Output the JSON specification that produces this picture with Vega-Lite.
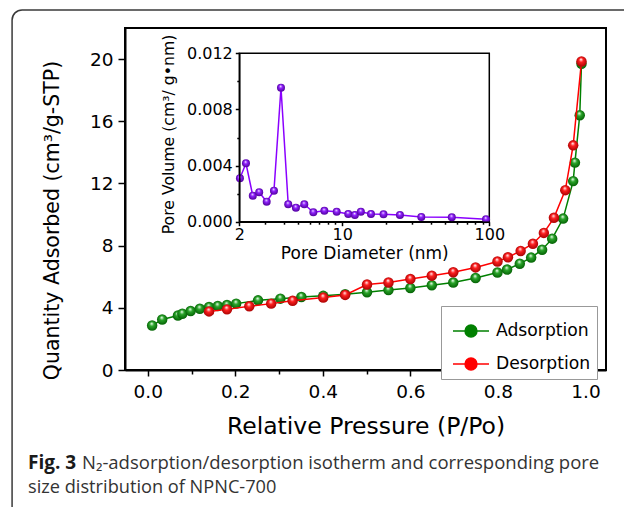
{
  "$schema": "https://vega.github.io/schema/vega-lite/v6.json",
  "width": 481,
  "height": 342,
  "autosize": {"type": "none"},
  "padding": {"left": 125, "top": 28, "right": 18, "bottom": 137},
  "background": "white",
  "config": {
    "view": {"stroke": "black", "strokeWidth": 2},
    "font": "DejaVu Sans",
    "axis": {
      "grid": false,
      "domainColor": "black",
      "domainWidth": 2,
      "tickColor": "black",
      "tickWidth": 1.5,
      "labelColor": "black",
      "titleColor": "black",
      "titleFontWeight": "normal",
      "labelFont": "DejaVu Sans",
      "titleFont": "DejaVu Sans",
      "labelFlush": false,
      "labelOverlap": false
    }
  },
  "datasets": {
    "iso": [
      {"p": 0.010, "q": 2.86, "series": "Adsorption"},
      {"p": 0.033, "q": 3.25, "series": "Adsorption"},
      {"p": 0.069, "q": 3.51, "series": "Adsorption"},
      {"p": 0.079, "q": 3.62, "series": "Adsorption"},
      {"p": 0.098, "q": 3.79, "series": "Adsorption"},
      {"p": 0.119, "q": 3.94, "series": "Adsorption"},
      {"p": 0.140, "q": 4.05, "series": "Adsorption"},
      {"p": 0.160, "q": 4.12, "series": "Adsorption"},
      {"p": 0.181, "q": 4.18, "series": "Adsorption"},
      {"p": 0.202, "q": 4.27, "series": "Adsorption"},
      {"p": 0.252, "q": 4.48, "series": "Adsorption"},
      {"p": 0.303, "q": 4.59, "series": "Adsorption"},
      {"p": 0.351, "q": 4.70, "series": "Adsorption"},
      {"p": 0.401, "q": 4.77, "series": "Adsorption"},
      {"p": 0.451, "q": 4.88, "series": "Adsorption"},
      {"p": 0.501, "q": 5.00, "series": "Adsorption"},
      {"p": 0.550, "q": 5.14, "series": "Adsorption"},
      {"p": 0.600, "q": 5.28, "series": "Adsorption"},
      {"p": 0.649, "q": 5.45, "series": "Adsorption"},
      {"p": 0.698, "q": 5.63, "series": "Adsorption"},
      {"p": 0.749, "q": 5.92, "series": "Adsorption"},
      {"p": 0.799, "q": 6.27, "series": "Adsorption"},
      {"p": 0.821, "q": 6.46, "series": "Adsorption"},
      {"p": 0.850, "q": 6.84, "series": "Adsorption"},
      {"p": 0.876, "q": 7.23, "series": "Adsorption"},
      {"p": 0.901, "q": 7.74, "series": "Adsorption"},
      {"p": 0.924, "q": 8.45, "series": "Adsorption"},
      {"p": 0.949, "q": 9.74, "series": "Adsorption"},
      {"p": 0.972, "q": 12.15, "series": "Adsorption"},
      {"p": 0.976, "q": 13.34, "series": "Adsorption"},
      {"p": 0.987, "q": 16.39, "series": "Adsorption"},
      {"p": 0.991, "q": 19.7, "series": "Adsorption"},
      {"p": 0.991, "q": 19.85, "series": "Desorption"},
      {"p": 0.972, "q": 14.45, "series": "Desorption"},
      {"p": 0.954, "q": 11.57, "series": "Desorption"},
      {"p": 0.928, "q": 9.79, "series": "Desorption"},
      {"p": 0.905, "q": 8.82, "series": "Desorption"},
      {"p": 0.880, "q": 8.12, "series": "Desorption"},
      {"p": 0.852, "q": 7.66, "series": "Desorption"},
      {"p": 0.823, "q": 7.25, "series": "Desorption"},
      {"p": 0.799, "q": 6.98, "series": "Desorption"},
      {"p": 0.749, "q": 6.60, "series": "Desorption"},
      {"p": 0.698, "q": 6.29, "series": "Desorption"},
      {"p": 0.649, "q": 6.07, "series": "Desorption"},
      {"p": 0.600, "q": 5.85, "series": "Desorption"},
      {"p": 0.550, "q": 5.63, "series": "Desorption"},
      {"p": 0.501, "q": 5.50, "series": "Desorption"},
      {"p": 0.451, "q": 4.83, "series": "Desorption"},
      {"p": 0.401, "q": 4.66, "series": "Desorption"},
      {"p": 0.331, "q": 4.45, "series": "Desorption"},
      {"p": 0.282, "q": 4.27, "series": "Desorption"},
      {"p": 0.232, "q": 4.10, "series": "Desorption"},
      {"p": 0.181, "q": 3.90, "series": "Desorption"},
      {"p": 0.140, "q": 3.77, "series": "Desorption"}
    ],
    "pore": [
      {"d": 2.02, "v": 0.00309},
      {"d": 2.22, "v": 0.00416},
      {"d": 2.47, "v": 0.00185},
      {"d": 2.73, "v": 0.00210},
      {"d": 3.07, "v": 0.00143},
      {"d": 3.44, "v": 0.00221},
      {"d": 3.84, "v": 0.00955},
      {"d": 4.30, "v": 0.00124},
      {"d": 4.85, "v": 0.00100},
      {"d": 5.53, "v": 0.00124},
      {"d": 6.37, "v": 0.00067},
      {"d": 7.57, "v": 0.00078},
      {"d": 9.18, "v": 0.00071},
      {"d": 11.0, "v": 0.00055},
      {"d": 12.2, "v": 0.00048},
      {"d": 13.4, "v": 0.00071},
      {"d": 15.7, "v": 0.00055},
      {"d": 19.1, "v": 0.00053},
      {"d": 24.7, "v": 0.00048},
      {"d": 34.5, "v": 0.00034},
      {"d": 55.6, "v": 0.00031},
      {"d": 95.0, "v": 0.00017}
    ]
  },
  "layer": [
    {
      "layer": [
        {
          "data": {"name": "iso"},
          "transform": [{"filter": "datum.series == 'Adsorption'"}],
          "mark": {"type": "line", "strokeWidth": 1.5},
          "encoding": {
            "x": {
              "field": "p",
              "type": "quantitative",
              "scale": {"domain": [-0.052, 1.047], "nice": false, "zero": false},
              "axis": {
                "title": "Relative Pressure (P/Po)",
                "orient": "bottom",
                "values": [0, 0.1, 0.2, 0.3, 0.4, 0.5, 0.6, 0.7, 0.8, 0.9, 1.0],
                "labelExpr": "round(datum.value*10)%2==0 ? format(datum.value,'.1f') : ''",
                "tickSize": {"condition": {"test": "round(datum.value*10)%2==0", "value": 6}, "value": 4},
                "labelFontSize": 18.5,
                "labelPadding": 6,
                "titleFontSize": 23.5,
                "titlePadding": 14
              }
            },
            "y": {
              "field": "q",
              "type": "quantitative",
              "scale": {"domain": [0, 22], "nice": false, "zero": false},
              "axis": {
                "title": "Quantity Adsorbed (cm³/g-STP)",
                "orient": "left",
                "values": [0, 2, 4, 6, 8, 10, 12, 14, 16, 18, 20],
                "labelExpr": "datum.value%4==0 ? datum.label : ''",
                "tickSize": {"condition": {"test": "datum.value%4==0", "value": 7}, "value": 4},
                "labelFontSize": 18.5,
                "labelPadding": 5,
                "titleFontSize": 20.5,
                "titlePadding": 27,
                "titleY": 192
              }
            },
            "color": {
              "field": "series",
              "type": "nominal",
              "scale": {"domain": ["Adsorption", "Desorption"], "range": ["#008000", "#ff0000"]},
              "legend": {
                "title": null,
                "orient": "none",
                "legendX": 316,
                "legendY": 278,
                "symbolType": "M-1,0H-0.33A0.33,0.33 0 1,1 0.33,0A0.33,0.33 0 1,1 -0.33,0M0.33,0H1",
                "symbolSize": 1296,
                "symbolStrokeWidth": 1.5,
                "symbolOffset": 5,
                "labelFont": "DejaVu Sans",
                "labelFontSize": 17.2,
                "labelColor": "black",
                "labelOffset": 6,
                "padding": 6,
                "rowPadding": 5,
                "strokeColor": "#999999",
                "fillColor": "white",
                "encode": {"symbols": {"update": {"fill": {"scale": "color", "field": "value"}, "fillOpacity": {"value": 1}, "opacity": {"value": 1}}}}
              }
            }
          }
        },
        {
          "data": {"name": "iso"},
          "transform": [{"filter": "datum.series == 'Adsorption'"}],
          "mark": {
            "type": "circle",
            "size": 110,
            "opacity": 1,
            "strokeWidth": 0,
            "fill": {"gradient": "radial", "x1": 0.45, "y1": 0.3, "r1": 0.02, "x2": 0.5, "y2": 0.5, "r2": 0.55,
              "stops": [{"offset": 0, "color": "#f0fff0"}, {"offset": 0.35, "color": "#2aa52a"}, {"offset": 1, "color": "#005a00"}]}
          },
          "encoding": {
            "x": {"field": "p", "type": "quantitative"},
            "y": {"field": "q", "type": "quantitative"}
          }
        },
        {
          "data": {"name": "iso"},
          "transform": [{"filter": "datum.series == 'Desorption'"}],
          "mark": {"type": "line", "strokeWidth": 1.5},
          "encoding": {
            "x": {"field": "p", "type": "quantitative"},
            "y": {"field": "q", "type": "quantitative"},
            "color": {"field": "series", "type": "nominal"}
          }
        },
        {
          "data": {"name": "iso"},
          "transform": [{"filter": "datum.series == 'Desorption'"}],
          "mark": {
            "type": "circle",
            "size": 110,
            "opacity": 1,
            "strokeWidth": 0,
            "fill": {"gradient": "radial", "x1": 0.45, "y1": 0.3, "r1": 0.02, "x2": 0.5, "y2": 0.5, "r2": 0.55,
              "stops": [{"offset": 0, "color": "#fff0f0"}, {"offset": 0.35, "color": "#ff2020"}, {"offset": 1, "color": "#a00000"}]}
          },
          "encoding": {
            "x": {"field": "p", "type": "quantitative"},
            "y": {"field": "q", "type": "quantitative"}
          }
        },
        {
          "data": {"values": [{"k": 1}]},
          "mark": {"type": "rect", "fill": "transparent", "stroke": "#3a3a3a", "strokeWidth": 1.5, "cornerRadius": 10, "clip": false},
          "encoding": {
            "x": {"datum": -0.31, "type": "quantitative"},
            "x2": {"datum": 1.125},
            "y": {"datum": 23.16, "type": "quantitative"},
            "y2": {"datum": -10.3}
          }
        },
        {
          "data": {"values": [{"k": 1}]},
          "mark": {"type": "text", "font": "Open Sans", "fontSize": 19, "fontWeight": "bold", "align": "left", "baseline": "middle", "color": "#1a1a1a", "clip": false},
          "encoding": {
            "x": {"datum": -0.2736, "type": "quantitative"},
            "y": {"datum": -5.983, "type": "quantitative"},
            "text": {"value": "Fig. 3"}
          }
        },
        {
          "data": {"values": [{"k": 1}]},
          "mark": {"type": "text", "font": "Open Sans", "fontSize": 18.5, "align": "left", "baseline": "middle", "color": "#333333", "clip": false},
          "encoding": {
            "x": {"datum": -0.1502, "type": "quantitative"},
            "y": {"datum": -5.983, "type": "quantitative"},
            "text": {"value": "N₂-adsorption/desorption isotherm and corresponding pore"}
          }
        },
        {
          "data": {"values": [{"k": 1}]},
          "mark": {"type": "text", "font": "Open Sans", "fontSize": 18.2, "align": "left", "baseline": "middle", "color": "#333333", "clip": false},
          "encoding": {
            "x": {"datum": -0.2736, "type": "quantitative"},
            "y": {"datum": -7.56, "type": "quantitative"},
            "text": {"value": "size distribution of NPNC-700"}
          }
        }
      ]
    },
    {
      "data": {"name": "pore"},
      "layer": [
        {
          "data": {"values": [{"k": 1}]},
          "mark": {"type": "rect", "fill": "white", "stroke": "black", "strokeWidth": 1.5},
          "encoding": {
            "x": {
              "datum": 2,
              "type": "quantitative",
              "scale": {"type": "log", "domain": [2, 100], "range": [114.3, 364.3], "nice": false},
              "axis": {
                "title": "Pore Diameter (nm)",
                "orient": "bottom",
                "offset": -148.3,
                "zindex": 1,
                "values": [2, 3, 4, 5, 6, 7, 8, 9, 10, 20, 30, 40, 50, 60, 70, 80, 90, 100],
                "labelExpr": "(datum.value==2 || datum.value==10 || datum.value==100) ? (datum.value + '') : ''",
                "tickSize": {"condition": {"test": "datum.value==2 || datum.value==10 || datum.value==100", "value": 4}, "value": 2.5},
                "domainWidth": 1.5,
                "labelFontSize": 16,
                "labelPadding": 1,
                "titleFontSize": 17,
                "titlePadding": 3
              }
            },
            "x2": {"datum": 100},
            "y": {
              "datum": 0,
              "type": "quantitative",
              "scale": {"domain": [0, 0.012], "range": [193.7, 25.3], "nice": false, "zero": false},
              "axis": {
                "title": "Pore Volume (cm³/ g•nm)",
                "orient": "left",
                "offset": -114.3,
                "zindex": 1,
                "values": [0, 0.002, 0.004, 0.006, 0.008, 0.01, 0.012],
                "labelExpr": "round(datum.value*1000)%4==0 ? format(datum.value,'.3f') : ''",
                "tickSize": {"condition": {"test": "round(datum.value*1000)%4==0", "value": 4}, "value": 2.5},
                "domainWidth": 1.5,
                "labelFontSize": 16,
                "labelPadding": 3,
                "titleFontSize": 15.7,
                "titlePadding": 10,
                "titleY": 106
              }
            },
            "y2": {"datum": 0.012}
          }
        },
        {
          "mark": {"type": "line", "color": "#8a00ff", "strokeWidth": 1.5},
          "encoding": {
            "x": {"field": "d", "type": "quantitative"},
            "y": {"field": "v", "type": "quantitative"}
          }
        },
        {
          "mark": {
            "type": "circle",
            "size": 64,
            "opacity": 1,
            "strokeWidth": 0,
            "fill": {"gradient": "radial", "x1": 0.45, "y1": 0.3, "r1": 0.02, "x2": 0.5, "y2": 0.5, "r2": 0.55,
              "stops": [{"offset": 0, "color": "#f4e8ff"}, {"offset": 0.35, "color": "#9020ff"}, {"offset": 1, "color": "#4a0090"}]}
          },
          "encoding": {
            "x": {"field": "d", "type": "quantitative"},
            "y": {"field": "v", "type": "quantitative"}
          }
        }
      ]
    }
  ],
  "resolve": {
    "scale": {"x": "independent", "y": "independent"},
    "axis": {"x": "independent", "y": "independent"}
  }
}
